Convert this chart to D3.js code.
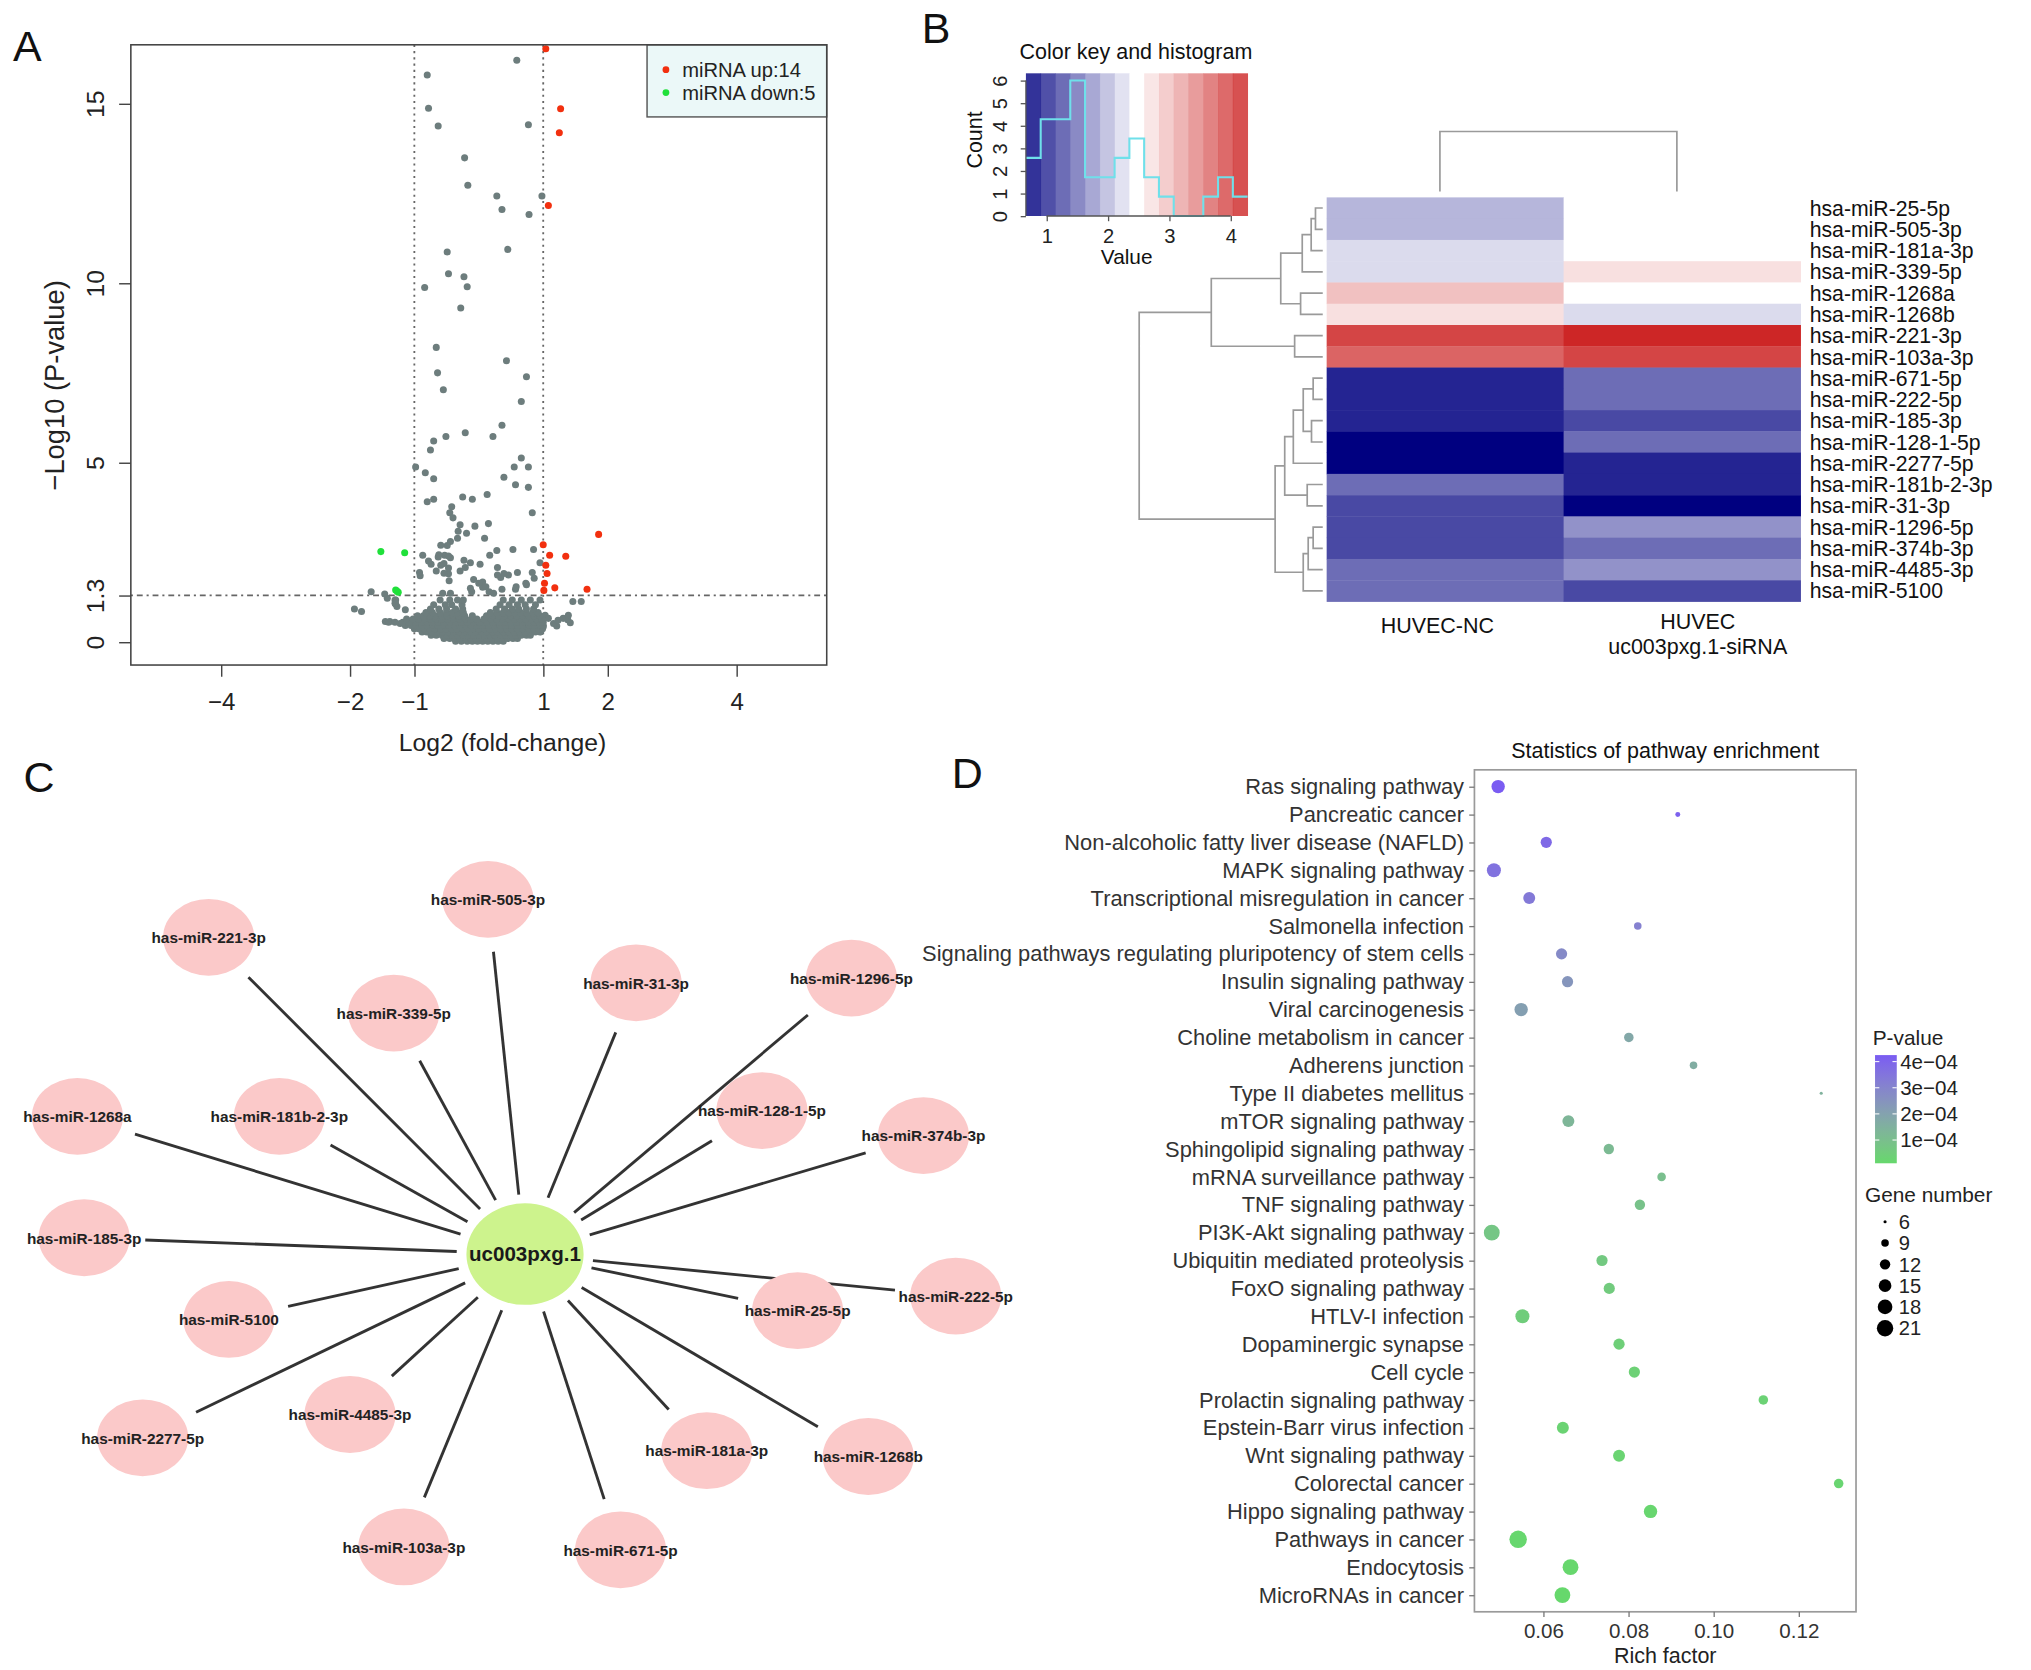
<!DOCTYPE html>
<html><head><meta charset="utf-8">
<script src="https://cdn.jsdelivr.net/npm/d3@7"></script>
<style>
body{margin:0;background:#fff}
svg{display:block}
text{font-family:"Liberation Sans",Arial,Helvetica,sans-serif}
</style>
</head><body>
<svg id="fig" width="2031" height="1670" viewBox="0 0 1560 1282.7"></svg>
<script>
// ================= PANEL A DATA (volcano) =================
const volcanoXTicks = [-4,-2,-1,1,2,4];
const volcanoYTicks = [0,1.3,5,10,15];
const fcCut = [-1,1];
const pCut = 1.3;
const upPoints = [[1.04,16.53],[1.27,14.86],[1.25,14.19],[1.08,12.16],[1.86,3.0],[1.0,2.71],[1.10,2.42],[1.35,2.39],[1.04,2.14],[1.06,1.91],[1.02,1.64],[1.01,1.44],[1.18,1.51],[1.68,1.47]];
const downPoints = [[-1.52,2.52],[-1.15,2.49],[-1.27,1.42],[-1.25,1.39],[-1.29,1.45]];
const nsPoints = [[0.59,16.21],[-0.80,15.8],[-0.78,14.87],[-0.63,14.38],[0.77,14.41],[-0.22,13.49],[-0.17,12.73],[0.28,12.43],[0.36,12.05],[0.78,11.91],[0.98,12.43],[-0.49,10.87],[0.45,10.94],[-0.47,10.26],[-0.23,10.18],[-0.18,9.9],[-0.84,9.88],[-0.28,9.31],[-0.66,8.21],[0.43,7.84],[-0.64,7.50],[0.74,7.39],[-0.55,7.03],[0.66,6.70],[0.36,6.04],[-0.21,5.83],[0.22,5.73],[-0.51,5.73],[-0.70,5.60],[-0.75,5.35],
[0.66,5.13],[0.55,4.88],[0.77,4.88],[0.39,4.59],[0.57,4.38],[0.77,4.31],[-0.98,4.88],[-0.83,4.72],[-0.70,4.55],[-0.70,3.98],[-0.80,3.91],[-0.25,4.04],[-0.10,3.98],[0.13,4.11],[-0.42,3.77],[0.83,3.60],[-0.45,3.60],[-0.40,3.46],[-0.29,3.27],[-0.06,3.23],[0.15,3.30],[-0.32,3.09],[-0.19,3.03],[-0.33,2.89],[-0.44,2.80],[-0.49,2.69],[0.09,2.89],
[-0.53,2.42],[-0.63,2.37],[-0.44,2.35],[0.53,2.58],[0.85,2.58],[0.28,2.55],[0.17,2.42],[-0.23,2.28],[-0.13,2.21],[-0.87,2.42],[-0.74,2.17],[-0.59,2.14],[-0.21,2.08],[0.02,2.17],[0.29,2.08],[0.95,2.21],[-0.66,1.98],[-0.47,1.90],[-0.29,1.98],[-0.91,1.85],[0.46,1.87],[0.60,1.94],[0.34,1.80],[-0.46,1.71],[-0.08,1.74],[0.06,1.67],[0.83,1.94],[0.74,1.60],[0.06,1.53],[0.36,1.47],[-0.11,1.40],[0.23,1.36],[0.57,1.47],
[-1.42,1.22],[-1.93,0.92],[-1.82,0.85],[1.46,1.13],[1.59,1.13],[1.38,0.62],[1.21,0.45],[1.42,0.54],[-1.27,0.99],
[0.0,1.64],[0.11,1.54],[-0.13,1.50],[0.16,1.40],[0.58,1.54],[0.73,1.64],[0.86,1.78],[-0.56,1.36],[-0.44,1.36],[0.29,1.87],[0.39,1.91],
[-1.67,1.40],[-1.46,1.34],[-1.29,1.17],[-1.29,1.06],[-0.78,2.26],[-0.92,1.94],[-0.59,2.70],[-0.62,2.43],[-0.47,2.40],[-0.54,2.19],[-0.47,2.06],[-0.54,1.92],
[1.03,0.75],[1.08,0.66],[1.16,0.52],[1.23,0.61],[1.31,0.66],[1.39,0.75],[1.0,0.43],[0.96,0.29],
[-1.30,1.17],[-1.30,1.08],[-1.14,0.90],[-1.38,0.57],[-1.22,0.52],[-1.45,0.57]];
// dense non-significant base of the volcano, row by row (y, list of x)
const nsRows = [
 {y:0.02, x:[-0.36,-0.27,-0.18,-0.1,-0.02,0.06,0.14,0.22,0.3,0.38]},
 {y:0.10, x:[-0.54,-0.45,-0.37,-0.29,-0.2,-0.12,-0.04,0.05,0.13,0.21,0.29,0.37,0.45,0.53,0.6]},
 {y:0.19, x:[-0.74,-0.66,-0.57,-0.49,-0.41,-0.33,-0.24,-0.16,-0.08,0.01,0.09,0.17,0.25,0.34,0.42,0.5,0.58,0.66,0.74,0.8]},
 {y:0.28, x:[-0.88,-0.81,-0.73,-0.64,-0.56,-0.47,-0.39,-0.3,-0.22,-0.13,-0.05,0.04,0.12,0.21,0.29,0.38,0.46,0.55,0.63,0.72,0.8,0.88,0.95]},
 {y:0.37, x:[-1.0,-0.93,-0.85,-0.76,-0.68,-0.59,-0.51,-0.42,-0.34,-0.25,-0.17,-0.08,0.0,0.09,0.17,0.26,0.34,0.43,0.51,0.6,0.68,0.77,0.85,0.93,0.99]},
 {y:0.46, x:[-1.14,-1.05,-0.97,-0.88,-0.8,-0.71,-0.63,-0.54,-0.46,-0.37,-0.29,-0.2,-0.12,-0.03,0.06,0.15,0.24,0.33,0.42,0.51,0.6,0.69,0.78,0.87,0.95,1.0]},
 {y:0.55, x:[-1.4,-1.3,-1.18,-1.08,-0.98,-0.89,-0.8,-0.72,-0.63,-0.54,-0.45,-0.36,-0.27,-0.18,-0.08,0.02,0.12,0.22,0.32,0.41,0.5,0.59,0.68,0.77,0.86,0.94,1.0]},
 {y:0.64, x:[-1.12,-1.02,-0.93,-0.84,-0.75,-0.66,-0.57,-0.48,-0.39,-0.3,-0.21,-0.12,-0.03,0.08,0.18,0.28,0.37,0.46,0.55,0.64,0.73,0.82,0.9,0.98]},
 {y:0.73, x:[-0.95,-0.86,-0.76,-0.67,-0.58,-0.49,-0.4,-0.31,-0.22,-0.1,0.12,0.22,0.31,0.4,0.5,0.59,0.68,0.77,0.86,0.95]},
 {y:0.82, x:[-0.82,-0.72,-0.6,-0.5,-0.41,-0.33,-0.24,0.18,0.28,0.38,0.47,0.56,0.65,0.74,0.84,0.92]},
 {y:0.92, x:[-0.75,-0.62,-0.5,-0.36,-0.25,0.27,0.4,0.52,0.62,0.74,0.85]},
 {y:1.04, x:[-0.7,-0.52,-0.42,-0.26,0.33,0.47,0.6,0.72,0.88]},
 {y:1.17, x:[-0.6,-0.45,-0.33,-0.24,0.38,0.52,0.66,0.8,0.95]}
];
const legendA = [{label:"miRNA up:14", color:"#f2300f"},{label:"miRNA down:5", color:"#1fe03a"}];

// ================= PANEL B DATA (heatmap) =================
const mirnaRows = ["hsa-miR-25-5p","hsa-miR-505-3p","hsa-miR-181a-3p","hsa-miR-339-5p","hsa-miR-1268a","hsa-miR-1268b","hsa-miR-221-3p","hsa-miR-103a-3p","hsa-miR-671-5p","hsa-miR-222-5p","hsa-miR-185-3p","hsa-miR-128-1-5p","hsa-miR-2277-5p","hsa-miR-181b-2-3p","hsa-miR-31-3p","hsa-miR-1296-5p","hsa-miR-374b-3p","hsa-miR-4485-3p","hsa-miR-5100"];
const groups = ["HUVEC-NC","HUVEC uc003pxg.1-siRNA"];
const valuesNC = [1.99,1.97,2.23,2.21,2.95,2.71,3.92,3.68,1.02,1.04,1.00,0.78,0.663,1.51,1.26,1.27,1.25,1.52,1.50];
const valuesSi = [2.47,2.48,2.45,2.70,2.46,2.24,4.277,3.93,1.51,1.49,1.27,1.53,1.03,1.01,0.79,1.75,1.50,1.76,1.26];
// row dendrogram, hclust-style merges [a, b, height]; negative = leaf (row number)
const rowMerges = [[-1,-2,22],[1,-3,35],[2,-4,62],[-5,-6,67],[3,4,127],[-7,-8,85],[5,6,337],[-9,-10,29],[-11,-12,34],[8,9,59],[10,-13,89],[-14,-15,47],[11,12,115],[-16,-17,29],[14,-18,44],[15,-19,59],[13,16,144],[7,17,555]];
const colMergeHeight = 46;
const keyXTicks = [1,2,3,4];
const keyYTicks = [0,1,2,3,4,5,6];

// ================= PANEL C DATA (network) =================
const hub = {name:"uc003pxg.1", x:780, y:843};
const targets = ["has-miR-505-3p","has-miR-221-3p","has-miR-339-5p","has-miR-31-3p","has-miR-1296-5p","has-miR-1268a","has-miR-181b-2-3p","has-miR-128-1-5p","has-miR-374b-3p","has-miR-185-3p","has-miR-5100","has-miR-25-5p","has-miR-222-5p","has-miR-2277-5p","has-miR-4485-3p","has-miR-181a-3p","has-miR-1268b","has-miR-103a-3p","has-miR-671-5p"];
const targetX = [725,310,585,945,1265,115,415,1132,1372,125,340,1185,1420,212,520,1050,1290,600,922];
const targetY = [235,300,430,378,370,607,607,597,640,815,955,940,915,1158,1118,1180,1190,1345,1350];

// ================= PANEL D DATA (KEGG dot plot) =================
const pathways = ["Ras signaling pathway","Pancreatic cancer","Non-alcoholic fatty liver disease (NAFLD)","MAPK signaling pathway","Transcriptional misregulation in cancer","Salmonella infection","Signaling pathways regulating pluripotency of stem cells","Insulin signaling pathway","Viral carcinogenesis","Choline metabolism in cancer","Adherens junction","Type II diabetes mellitus","mTOR signaling pathway","Sphingolipid signaling pathway","mRNA surveillance pathway","TNF signaling pathway","PI3K-Akt signaling pathway","Ubiquitin mediated proteolysis","FoxO signaling pathway","HTLV-I infection","Dopaminergic synapse","Cell cycle","Prolactin signaling pathway","Epstein-Barr virus infection","Wnt signaling pathway","Colorectal cancer","Hippo signaling pathway","Pathways in cancer","Endocytosis","MicroRNAs in cancer"];
const richFactor = [0.0494,0.0916,0.0607,0.0484,0.0567,0.0822,0.0643,0.0657,0.0548,0.0801,0.0953,0.1253,0.0659,0.0754,0.0878,0.0827,0.0479,0.0738,0.0755,0.0551,0.0778,0.0814,0.1117,0.0646,0.0778,0.1294,0.0852,0.0541,0.0664,0.0645];
const geneNumber = [16,7,13,17,14,9,13,13,16,11,9,6,14,12,10,12,20,13,13,17,13,13,11,14,14,11,16,23,20,20];
const pValue = [4.25e-4,4.1e-4,3.85e-4,3.6e-4,3.35e-4,3.1e-4,2.8e-4,2.45e-4,2.1e-4,1.8e-4,1.6e-4,1.45e-4,1.3e-4,1.15e-4,1.0e-4,0.9e-4,0.75e-4,0.65e-4,0.58e-4,0.5e-4,0.42e-4,0.36e-4,0.32e-4,0.28e-4,0.25e-4,0.22e-4,0.18e-4,0.15e-4,0.13e-4,0.11e-4];
const richTicks = [0.06,0.08,0.10,0.12];
const pTicks = [1e-4,2e-4,3e-4,4e-4];
const sizeBreaks = [6,9,12,15,18,21];

// =========================================================
const svg = d3.select("#fig");
const MINUS = "\u2212";
function letter(x,y,s){ svg.append("text").attr("x",x).attr("y",y).attr("font-size",33).attr("fill","#111").text(s); }
letter(10,47,"A"); letter(708,33,"B"); letter(18,608.5,"C"); letter(731,605,"D");

// ---------------- Panel A ----------------
(function(){
  const g = svg.append("g");
  const L=100.5,R=635,T=34.4,B=510.8;
  const x = d3.scaleLinear().domain([-5.4,5.4]).range([L,R]);
  const y = d3.scaleLinear().domain([-0.64,16.64]).range([B,T]);
  g.append("clipPath").attr("id","clipA").append("rect").attr("x",L).attr("y",T).attr("width",R-L).attr("height",B-T);
  const inner = g.append("g").attr("clip-path","url(#clipA)");
  fcCut.forEach(v=>inner.append("line").attr("x1",x(v)).attr("x2",x(v)).attr("y1",T).attr("y2",B)
     .attr("stroke","#666").attr("stroke-width",1.4).attr("stroke-dasharray","1.6,3.2"));
  inner.append("line").attr("x1",L).attr("x2",R).attr("y1",y(pCut)).attr("y2",y(pCut))
     .attr("stroke","#666").attr("stroke-width",1.4).attr("stroke-dasharray","1.6,3,4.5,3");
  const ns = nsPoints.concat(nsRows.flatMap(r=>r.x.map(v=>[v,r.y])));
  const rr = 2.7;
  inner.selectAll(".ns").data(ns).join("circle").attr("cx",d=>x(d[0])).attr("cy",d=>y(d[1])).attr("r",rr).attr("fill","#6d7d7d");
  inner.selectAll(".dn").data(downPoints).join("circle").attr("cx",d=>x(d[0])).attr("cy",d=>y(d[1])).attr("r",rr).attr("fill",legendA[1].color);
  inner.selectAll(".up").data(upPoints).join("circle").attr("cx",d=>x(d[0])).attr("cy",d=>y(d[1])).attr("r",rr).attr("fill",legendA[0].color);
  // legend
  const lg = g.append("g");
  lg.append("rect").attr("x",497).attr("y",T).attr("width",R-497).attr("height",55.4).attr("fill","#ebf8f8").attr("stroke","#555").attr("stroke-width",1.1);
  legendA.forEach((d,i)=>{
    lg.append("circle").attr("cx",511.5).attr("cy",53.5+i*17.6).attr("r",2.6).attr("fill",d.color);
    lg.append("text").attr("x",524).attr("y",53.5+i*17.6).attr("dy","0.35em").attr("font-size",15.5).attr("fill","#222").text(d.label);
  });
  g.append("rect").attr("x",L).attr("y",T).attr("width",R-L).attr("height",B-T).attr("fill","none").attr("stroke","#444").attr("stroke-width",1.2);
  const fmt = d=> d<0? MINUS+Math.abs(d) : String(d);
  const xa = g.append("g").attr("transform",`translate(0,${B})`)
    .call(d3.axisBottom(x).tickValues(volcanoXTicks).tickSize(9).tickFormat(fmt));
  xa.select(".domain").remove();
  xa.selectAll("line").attr("stroke","#444").attr("stroke-width",1.1);
  xa.selectAll("text").attr("y",34.7).attr("dy",null).attr("font-size",18.5).attr("fill","#222").attr("font-family",null);
  const ya = g.append("g").attr("transform",`translate(${L},0)`)
    .call(d3.axisLeft(y).tickValues(volcanoYTicks).tickSize(9).tickFormat(d=>String(d)));
  ya.select(".domain").remove();
  ya.selectAll("line").attr("stroke","#444").attr("stroke-width",1.1);
  ya.selectAll("text").attr("x",null).attr("dy",null).attr("text-anchor","middle").attr("dominant-baseline","central")
    .attr("transform","translate(-27.2,0) rotate(-90)").attr("font-size",19).attr("fill","#222").attr("font-family",null);
  g.append("text").attr("x",386).attr("y",577).attr("text-anchor","middle").attr("font-size",19).attr("fill","#222").text("Log2 (fold-change)");
  g.append("text").attr("transform","translate(41.9,296) rotate(-90)").attr("text-anchor","middle").attr("dominant-baseline","central")
    .attr("font-size",21).attr("fill","#222").text(MINUS+"Log10 (P-value)");
})();

// ---------------- Panel B ----------------
(function(){
  const g = svg.append("g");
  const all = valuesNC.concat(valuesSi);
  const ext = d3.extent(all);
  const nb = 15;
  const breaks = d3.range(nb+1).map(i=>ext[0]+(ext[1]-ext[0])*i/nb);
  const ramp = d3.piecewise(d3.interpolateRgb, ["#000080","#ffffff","#CD2626"]);
  const palette = d3.range(nb).map(i=>ramp(i/(nb-1)));
  const binOf = v => Math.min(nb-1, Math.max(0, d3.bisectRight(breaks, v)-1));
  const col = d3.scaleBand().domain(groups).range([1019,1383]);
  const row = d3.scaleBand().domain(mirnaRows).range([151.6,462]);
  const cells = [];
  mirnaRows.forEach((r,i)=>{ cells.push({r,c:groups[0],v:valuesNC[i]}); cells.push({r,c:groups[1],v:valuesSi[i]}); });
  g.selectAll(".cell").data(cells).join("rect").attr("x",d=>col(d.c)).attr("y",d=>row(d.r))
    .attr("width",col.bandwidth()+0.3).attr("height",row.bandwidth()+0.3).attr("fill",d=>palette[binOf(d.v)]);
  g.selectAll(".rl").data(mirnaRows).join("text").attr("x",1390).attr("y",d=>row(d)+row.bandwidth()/2)
    .attr("dy","0.36em").attr("font-size",16.3).attr("fill","#111").text(d=>d);
  g.append("text").attr("x",col(groups[0])+col.bandwidth()/2-6).attr("y",486).attr("text-anchor","middle").attr("font-size",16.5).attr("fill","#111").text("HUVEC-NC");
  const t2 = g.append("text").attr("text-anchor","middle").attr("font-size",16.5).attr("fill","#111");
  const cx2 = col(groups[1])+col.bandwidth()/2+12;
  t2.append("tspan").attr("x",cx2).attr("y",483).text("HUVEC");
  t2.append("tspan").attr("x",cx2).attr("y",502.5).text("uc003pxg.1-siRNA");
  // row dendrogram
  const dx = d3.scaleLinear().domain([0,d3.max(rowMerges,d=>d[2])]).range([1016,875]);
  const pos = [];
  function node(id){
    if(id<0) return {x:dx(0), y:row(mirnaRows[-id-1])+row.bandwidth()/2};
    return pos[id-1];
  }
  const dpath = [];
  rowMerges.forEach((m,i)=>{
    const a=node(m[0]), b=node(m[1]);
    const n={x:dx(m[2]), y:(a.y+b.y)/2};
    pos[i]=n;
    dpath.push(`M${a.x},${a.y}H${n.x}V${b.y}H${b.x}`);
  });
  g.append("path").attr("d",dpath.join("")).attr("fill","none").attr("stroke","#9a9a9a").attr("stroke-width",1.3);
  const cy = d3.scaleLinear().domain([0,colMergeHeight]).range([147,101]);
  const c1 = col(groups[0])+col.bandwidth()/2-4, c2 = col(groups[1])+col.bandwidth()/2-4;
  g.append("path").attr("d",`M${c1},${cy(0)}V${cy(colMergeHeight)}H${c2}V${cy(0)}`).attr("fill","none").attr("stroke","#9a9a9a").attr("stroke-width",1.3);
  // color key
  const kL=788,kR=958.3,kT=56.3,kB=165.9;
  const kx = d3.scaleLinear().domain([breaks[0],breaks[nb]]).range([kL,kR]);
  g.selectAll(".ks").data(d3.range(nb)).join("rect").attr("x",i=>kx(breaks[i])).attr("y",kT)
    .attr("width",i=>kx(breaks[i+1])-kx(breaks[i])+0.3).attr("height",kB-kT).attr("fill",i=>palette[i]).attr("fill-opacity",0.8);
  const bins = d3.bin().domain([breaks[0],breaks[nb]+1e-9]).thresholds(breaks.slice(1,nb))(all);
  const counts = bins.map(b=>b.length);
  const maxC = d3.max(counts);
  const hy = d3.scaleLinear().domain([0,maxC]).range([kB, kB-(kB-kT)*0.95]);
  let hp = `M${kx(breaks[0])},${hy(counts[0])}`;
  counts.forEach((c,i)=>{ hp += `H${kx(breaks[i+1])}`; if(i<nb-1) hp += `V${hy(counts[i+1])}`; });
  g.append("path").attr("d",hp).attr("fill","none").attr("stroke","#6fe0ea").attr("stroke-width",1.6);
  const ay = d3.scaleLinear().domain([0,6]).range([kB, kB-(kB-kT)*0.95]);
  const kxa = g.append("g").attr("transform",`translate(0,${kB})`).call(d3.axisBottom(kx).tickValues(keyXTicks).tickSize(4).tickFormat(d3.format("d")));
  kxa.select(".domain").attr("d",`M${kx(1)},0H${kx(4)}`).attr("stroke","#555");
  kxa.selectAll("line").attr("stroke","#555");
  kxa.selectAll("text").attr("y",21).attr("dy",null).attr("font-size",15.5).attr("fill","#222").attr("font-family",null);
  const kya = g.append("g").attr("transform",`translate(${kL},0)`).call(d3.axisLeft(ay).tickValues(keyYTicks).tickSize(4).tickFormat(d3.format("d")));
  kya.select(".domain").attr("d",`M0,${ay(0)}V${ay(6)}`).attr("stroke","#555");
  kya.selectAll("line").attr("stroke","#555");
  kya.selectAll("text").attr("x",null).attr("dy",null).attr("text-anchor","middle").attr("dominant-baseline","central")
    .attr("transform","translate(-19.6,0) rotate(-90)").attr("font-size",15.5).attr("fill","#222").attr("font-family",null);
  g.append("text").attr("x",872.5).attr("y",45.5).attr("text-anchor","middle").attr("font-size",16.5).attr("fill","#111").text("Color key and histogram");
  g.append("text").attr("x",865.4).attr("y",203).attr("text-anchor","middle").attr("font-size",16).attr("fill","#111").text("Value");
  g.append("text").attr("transform","translate(748.9,107.5) rotate(-90)").attr("text-anchor","middle").attr("dominant-baseline","central").attr("font-size",16.5).attr("fill","#111").text("Count");
})();

// ---------------- Panel C ----------------
(function(){
  const g = svg.append("g");
  const nx = d3.scaleLinear().domain([0,1560]).range([0,806.5]);
  const ny = d3.scaleLinear().domain([0,1560]).range([585.5,1284.5]);
  const hx = nx(hub.x), hyy = ny(hub.y);
  const HRX=45, HRY=39, RX=35, RY=29.5;
  const rad = (ux,uy,rx,ry)=>1/Math.sqrt((ux/rx)**2+(uy/ry)**2);
  const nodes = targets.map((t,i)=>({name:t, x:nx(targetX[i]), y:ny(targetY[i])}));
  nodes.forEach(n=>{
    const dxv=n.x-hx, dyv=n.y-hyy, d=Math.hypot(dxv,dyv), ux=dxv/d, uy=dyv/d;
    const s = rad(ux,uy,HRX,HRY)*1.1+3;
    const e = rad(ux,uy,RX,RY)*1.2+5;
    g.append("line").attr("x1",hx+ux*s).attr("y1",hyy+uy*s).attr("x2",n.x-ux*e).attr("y2",n.y-uy*e)
      .attr("stroke","#333").attr("stroke-width",2.2);
  });
  g.selectAll(".tn").data(nodes).join("ellipse").attr("cx",d=>d.x).attr("cy",d=>d.y).attr("rx",RX).attr("ry",RY).attr("fill","#fbc9c9");
  g.selectAll(".tl").data(nodes).join("text").attr("x",d=>d.x).attr("y",d=>d.y).attr("dy","0.38em").attr("text-anchor","middle")
    .attr("font-size",11.8).attr("font-weight","bold").attr("fill","#222").text(d=>d.name);
  g.append("ellipse").attr("cx",hx).attr("cy",hyy).attr("rx",HRX).attr("ry",HRY).attr("fill","#cdf38d");
  g.append("text").attr("x",hx).attr("y",hyy).attr("dy","0.36em").attr("text-anchor","middle").attr("font-size",15.8).attr("font-weight","bold").attr("fill","#1a1a1a").text(hub.name);
})();

// ---------------- Panel D ----------------
(function(){
  const g = svg.append("g");
  const L=1132.5,R=1425.6,T=591.3,B=1238;
  const ext = d3.extent(richFactor), pad=(ext[1]-ext[0])*0.05;
  const x = d3.scaleLinear().domain([ext[0]-pad, ext[1]+pad]).range([L,R]);
  const y = d3.scalePoint().domain(pathways).range([T,B]).padding(0.6);
  const pExt = d3.extent(pValue);
  const colorP = d3.scaleLinear().domain(pExt).range(["#66d86c","#7a5cf2"]).interpolate(d3.interpolateLab);
  const sz = d3.scaleSqrt().domain([1,16]).range([2.4,12.6]); // diameter vs (gene number - 5)
  const diam = n => Math.max(1.8, sz(n-5));
  g.append("rect").attr("x",L).attr("y",T).attr("width",R-L).attr("height",B-T).attr("fill","none").attr("stroke","#9a9a9a").attr("stroke-width",1.3);
  const data = pathways.map((p,i)=>({p, rf:richFactor[i], n:geneNumber[i], pv:pValue[i]}));
  g.selectAll(".dot").data(data).join("circle").attr("cx",d=>x(d.rf)).attr("cy",d=>y(d.p)).attr("r",d=>diam(d.n)/2).attr("fill",d=>colorP(d.pv));
  const ya = g.append("g").attr("transform",`translate(${L},0)`).call(d3.axisLeft(y).tickSize(4).tickPadding(4));
  ya.select(".domain").remove();
  ya.selectAll("line").attr("stroke","#777");
  ya.selectAll("text").attr("font-size",16.8).attr("fill","#333").attr("font-family",null);
  const xa = g.append("g").attr("transform",`translate(0,${B})`).call(d3.axisBottom(x).tickValues(richTicks).tickSize(4).tickFormat(d3.format(".2f")));
  xa.select(".domain").remove();
  xa.selectAll("line").attr("stroke","#777");
  xa.selectAll("text").attr("y",20.5).attr("dy",null).attr("font-size",15.8).attr("fill","#333").attr("font-family",null);
  g.append("text").attr("x",(L+R)/2).attr("y",582).attr("text-anchor","middle").attr("font-size",16.5).attr("fill","#111").text("Statistics of pathway enrichment");
  g.append("text").attr("x",(L+R)/2).attr("y",1277).attr("text-anchor","middle").attr("font-size",16.5).attr("fill","#222").text("Rich factor");
  g.append("text").attr("x",1438.4).attr("y",802.7).attr("font-size",16).attr("fill","#222").text("P-value");
  const bT=810.4,bB=893.5,bL=1440.2,bR=1456.9;
  const grad = svg.append("defs").append("linearGradient").attr("id","pgrad").attr("x1",0).attr("y1",1).attr("x2",0).attr("y2",0);
  d3.range(11).forEach(i=>grad.append("stop").attr("offset",i/10).attr("stop-color",colorP(pExt[0]+(pExt[1]-pExt[0])*i/10)));
  g.append("rect").attr("x",bL).attr("y",bT).attr("width",bR-bL).attr("height",bB-bT).attr("fill","url(#pgrad)");
  const ly = d3.scaleLinear().domain(pExt).range([bB,bT]);
  const pfmt = v => (v/1e-4).toFixed(0)+"e"+MINUS+"04";
  pTicks.forEach(v=>{
    g.append("line").attr("x1",bL).attr("x2",bL+3.3).attr("y1",ly(v)).attr("y2",ly(v)).attr("stroke","#fff").attr("stroke-width",0.8);
    g.append("line").attr("x1",bR-3.3).attr("x2",bR).attr("y1",ly(v)).attr("y2",ly(v)).attr("stroke","#fff").attr("stroke-width",0.8);
    g.append("text").attr("x",1459.5).attr("y",ly(v)).attr("dy","0.36em").attr("font-size",15.8).attr("fill","#222").text(pfmt(v));
  });
  g.append("text").attr("x",1432.5).attr("y",922.9).attr("font-size",16).attr("fill","#222").text("Gene number");
  const sy = d3.scaleLinear().domain([0,sizeBreaks.length-1]).range([938.4,1020.2]);
  sizeBreaks.forEach((n,i)=>{
    g.append("circle").attr("cx",1447.9).attr("cy",sy(i)).attr("r",diam(n)/2).attr("fill","#000");
    g.append("text").attr("x",1458.5).attr("y",sy(i)).attr("dy","0.36em").attr("font-size",15.5).attr("fill","#222").text(n);
  });
})();
</script>
</body></html>
